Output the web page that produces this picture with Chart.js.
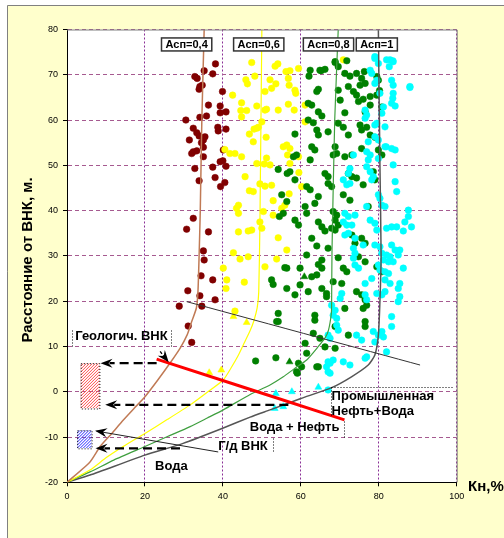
<!DOCTYPE html>
<html>
<head>
<meta charset="utf-8">
<script src="https://cdn.jsdelivr.net/npm/chart.js@4.4.0/dist/chart.umd.min.js"></script>
<style>
  body { margin: 0; background: #fff; overflow: hidden; }
  #box { position: relative; width: 504px; height: 538px; }
</style>
</head>
<body>
<div id="box"><canvas id="myChart"></canvas></div>
<script>
// ---- data: [Кн %, расстояние от ВНК м] ----
const asp04 = [[38.1,72.4],[35.2,70.9],[37.4,70.2],[33.4,69.2],[34.7,67.7],[33.9,66.8],[39.9,66.3],[36.3,63.3],[39.3,63.1],[39.3,61.6],[40.8,61.8],[35.8,60.9],[34.1,60.6],[30.5,60.0],[38.7,58.4],[40.8,58.0],[32.4,58.2],[38.8,57.6],[33.9,56.5],[35.4,56.3],[35.0,55.6],[31.4,55.6],[35.0,54.0],[32.4,53.0],[33.3,53.2],[32.0,52.6],[35.0,51.9],[40.1,53.4],[39.3,50.8],[40.0,51.0],[37.4,49.6],[32.8,49.3],[40.8,49.8],[38.0,47.3],[33.9,46.6],[40.5,46.2],[39.4,45.3],[32.4,38.3],[30.7,35.9],[36.3,35.3],[35.0,31.1],[35.2,29.1],[34.4,25.6],[37.4,24.7],[31.0,22.3],[34.1,21.2],[38.0,20.3],[28.8,18.9],[34.6,18.9],[31.1,14.5],[32.0,10.9],[32.8,69.6],[34.1,67.4],[33.3,57.2],[34.5,55.0]];

const asp06 = [[47.4,72.7],[53.4,71.9],[54.1,72.4],[48.2,69.7],[45.9,68.9],[46.3,68.0],[52.1,68.9],[53.6,68.0],[50.8,66.3],[52.5,67.0],[56.2,70.7],[56.8,69.2],[42.5,65.5],[44.8,63.8],[48.7,63.1],[44.6,62.1],[46.1,62.1],[51.2,62.4],[54.2,62.2],[44.8,60.7],[50.0,59.6],[49.1,58.4],[48.0,58.0],[46.8,56.9],[51.1,56.2],[56.4,54.5],[55.5,54.1],[40.5,53.5],[41.8,52.6],[43.1,52.6],[44.8,51.9],[51.2,51.6],[48.7,50.4],[50.6,50.3],[56.6,52.3],[45.7,47.5],[49.5,45.9],[50.8,45.4],[52.5,45.6],[46.8,44.4],[47.8,44.2],[52.9,42.2],[44.0,41.2],[43.5,40.5],[44.0,39.4],[50.4,39.8],[52.9,39.0],[49.5,37.5],[44.0,35.3],[46.5,35.5],[47.4,35.7],[50.0,36.1],[54.2,34.0],[42.7,30.7],[44.4,29.3],[46.5,29.8],[53.8,29.3],[50.8,27.6],[56.4,31.3],[40.1,27.3],[41.0,24.7],[40.8,22.8],[45.5,24.2],[43.1,17.8],[57.2,70.9],[59.4,71.4],[70.9,73.3],[57.0,67.7],[58.5,66.6],[58.7,65.9],[56.8,63.5],[58.3,62.2],[61.1,63.3],[61.1,59.6],[57.2,53.7],[59.4,51.9],[57.2,50.4],[59.5,48.4],[60.2,45.3],[57.0,43.7],[55.9,41.2],[50.8,62.2],[52.1,50.1],[47.8,55.2],[55.1,40.5],[48.7,58.2]];

const asp08 = [[68.8,72.7],[69.6,71.8],[66.2,71.2],[65.2,70.9],[62.1,69.7],[71.3,70.3],[72.6,69.7],[74.3,70.3],[76.3,70.7],[75.6,69.2],[76.5,68.1],[75.2,67.7],[64.5,66.8],[64.1,66.3],[69.6,66.6],[72.2,67.4],[73.5,66.3],[74.3,65.5],[77.8,65.2],[79.5,65.5],[61.9,63.7],[62.8,63.3],[70.1,64.4],[74.8,64.1],[76.0,64.6],[80.8,62.9],[77.8,63.3],[64.5,61.8],[65.4,60.9],[71.3,61.6],[76.5,61.8],[61.9,60.0],[63.2,59.4],[69.6,59.3],[70.9,58.4],[75.2,58.9],[76.9,58.4],[75.6,57.8],[64.1,57.8],[64.5,56.7],[67.0,57.4],[58.5,56.9],[77.8,56.7],[79.0,56.2],[72.2,56.7],[62.8,54.1],[63.6,53.4],[68.8,54.1],[69.2,52.6],[68.3,52.3],[71.3,51.9],[73.1,52.3],[75.6,53.7],[58.1,51.9],[58.9,52.3],[62.4,51.2],[79.9,53.4],[80.8,52.3],[57.2,48.6],[58.5,46.8],[66.2,48.2],[67.0,47.5],[72.2,48.2],[73.1,47.5],[67.0,46.0],[67.9,45.3],[61.5,45.3],[62.4,44.6],[78.6,48.6],[79.0,46.8],[74.3,47.2],[76.0,45.7],[64.5,43.1],[63.6,41.6],[70.9,43.5],[72.6,42.3],[61.1,40.9],[61.5,39.4],[68.3,39.8],[69.2,39.0],[77.3,40.9],[58.5,37.9],[59.4,36.8],[64.5,37.5],[65.4,36.4],[68.8,37.9],[69.6,36.8],[66.2,35.5],[67.9,36.1],[68.8,35.7],[73.1,34.6],[73.9,32.8],[75.6,33.9],[76.5,32.8],[62.8,33.9],[64.1,32.2],[67.0,31.7],[61.5,30.2],[65.4,29.1],[64.5,28.1],[65.4,27.3],[69.6,29.6],[74.8,29.8],[76.5,28.7],[59.8,27.3],[70.9,27.3],[71.8,26.5],[79.5,27.6],[80.8,26.5],[56.4,27.3],[62.8,25.4],[64.1,25.8],[68.3,24.3],[70.5,23.9],[59.8,23.6],[65.4,22.8],[66.6,21.7],[66.6,21.0],[61.9,22.1],[58.5,21.4],[74.3,22.1],[75.6,21.4],[76.5,20.3],[76.9,19.1],[76.0,18.4],[63.6,16.9],[63.6,15.8],[71.3,18.4],[76.5,15.5],[76.5,14.4],[68.8,14.4],[72.2,12.5],[61.1,10.7],[64.9,11.8],[68.8,9.6],[64.1,5.5],[58.9,4.4],[54.2,49.1],[56.5,48.2],[55.1,43.5],[56.4,42.0],[55.5,39.4],[54.5,38.7],[55.9,27.4],[52.5,24.7],[52.9,23.7],[56.4,22.8],[54.2,17.3],[54.2,15.5],[53.8,15.5],[48.4,6.8],[53.6,7.5],[59.4,6.3],[60.2,5.5],[59.1,4.1],[64.5,5.5],[61.5,8.5],[66.2,9.9],[63.2,12.9],[68.8,72.9],[71.8,73.1],[62.4,71.0],[64.9,71.0],[79.5,69.6],[79.9,68.8],[80.2,66.5]];

const asp1 = [[79.0,74.0],[79.9,72.5],[82.9,73.3],[83.7,72.9],[77.8,71.0],[78.2,70.3],[79.5,68.8],[79.0,68.1],[83.3,68.8],[83.7,67.7],[88.0,67.4],[80.3,65.9],[83.7,65.9],[83.3,63.7],[76.5,60.4],[81.2,62.9],[80.8,61.5],[79.0,58.9],[81.6,58.5],[79.0,56.3],[79.9,55.6],[77.3,55.2],[81.6,54.1],[83.3,53.7],[84.2,53.4],[76.9,53.0],[77.8,52.3],[73.5,52.3],[77.3,51.2],[79.9,51.5],[76.9,49.7],[77.8,48.6],[72.6,49.3],[72.2,48.2],[78.6,47.5],[78.2,46.8],[84.2,46.4],[70.9,46.8],[71.8,45.7],[72.6,46.0],[79.9,43.5],[80.3,42.7],[84.6,44.2],[80.8,41.2],[81.6,40.9],[76.9,40.9],[71.3,39.4],[72.2,38.7],[73.9,39.0],[87.6,40.1],[87.6,38.7],[70.9,37.5],[71.8,36.8],[73.1,36.8],[77.8,37.9],[79.0,37.2],[88.4,36.4],[82.0,36.1],[83.3,36.4],[79.5,35.7],[86.3,35.5],[71.3,34.6],[72.2,35.0],[73.9,33.9],[73.5,31.7],[76.0,32.4],[79.0,32.4],[80.3,32.0],[83.3,32.4],[84.2,31.3],[73.9,30.6],[73.5,29.5],[80.8,30.6],[82.0,30.2],[82.9,29.8],[85.4,31.3],[85.0,30.2],[81.2,29.1],[82.5,28.7],[83.7,28.7],[73.9,28.0],[74.8,27.3],[79.9,28.0],[80.3,26.9],[81.6,26.5],[82.5,26.1],[86.3,27.3],[78.2,25.0],[76.5,23.9],[81.6,24.7],[82.9,23.9],[85.4,23.9],[85.0,22.8],[70.5,21.7],[70.1,20.6],[76.5,21.4],[76.9,20.3],[79.5,21.7],[80.8,21.4],[81.6,22.1],[85.4,21.0],[85.0,19.9],[67.9,19.1],[68.8,18.0],[68.3,16.9],[69.2,16.2],[83.3,16.6],[83.3,14.4],[69.2,14.7],[69.6,13.6],[78.6,13.3],[79.9,12.5],[80.8,13.3],[81.2,12.1],[79.0,11.0],[67.0,12.5],[67.5,11.8],[74.3,12.5],[75.6,11.4],[76.5,7.4],[67.0,6.6],[68.3,7.0],[70.9,6.6],[72.6,5.9],[67.0,4.4],[67.5,4.1],[67.5,6.3],[66.6,5.5],[76.9,7.7],[82.0,8.8],[67.0,0.4],[79.0,73.6],[82.0,73.3],[83.6,73.1],[82.7,71.8],[88.0,67.2],[83.6,64.8],[84.2,63.1],[76.5,62.2],[76.9,61.1],[79.5,59.3],[81.9,54.1],[83.7,50.1],[86.7,37.5],[84.6,36.4]];

// triangles (отдельные замеры)
const tri06 = [[42.7,16.6],[46.1,15.3],[36.5,4.2],[39.6,4.8]];
const tri08 = [[57.1,6.6],[60.9,25.4]];
const tri1 = [[53.6,-0.4],[57.7,0.0],[64.5,1.0],[53.3,-3.7],[55.5,-3.3]];

// trend curves
const curve04 = [[0,-20],[5.9,-15.5],[8.5,-12.1],[11.5,-9.2],[14.4,-6.3],[17.3,-3.6],[20,-1.1],[23.3,2.6],[26.4,6.3],[29,9.6],[30.8,12.5],[32,15.5],[33.2,18.5],[33.6,22],[33.9,30],[34.2,40],[34.6,60],[35.2,80]];
const curve06 = [[0,-20],[5.9,-17.3],[10,-14.6],[14.4,-12.1],[20,-9.2],[25.8,-6.1],[31.6,-2.9],[36,-0.1],[40.1,2.6],[42.2,5.4],[44,8.1],[45.5,10.8],[47,13.5],[48,15.8],[48.8,18.5],[49.2,22],[49.5,37],[50,80]];
const curve08 = [[0,-20],[5.9,-17.7],[12,-15.1],[20,-12.1],[25.8,-9.9],[31.6,-7.7],[36,-5.8],[40.1,-4],[47,-0.6],[52.1,1.5],[55.5,3.3],[58.5,5.2],[61.5,7],[64.5,10],[66.3,12],[67.1,13.6],[67.8,17],[67.9,19],[68,31],[68.7,60],[69.6,80]];
const curve1 = [[0,-20],[5.9,-18.4],[20,-14],[29.8,-11.4],[40.1,-8],[47,-5.6],[52.1,-4],[60,-1.5],[67.9,0.9],[73,3.3],[77.3,5.9],[79,8.1],[79.9,12.5],[80.3,20],[80.6,30],[80.3,50],[79.9,80]];

const vnkLine = [[23,7.2],[71.2,-6.2]];      // red
const contactLine = [[30.7,19.9],[90.6,5.9]]; // thin black

const curveNames = ['Асп=0,4', 'Асп=0,6', 'Асп=0,8', 'Асп=1'];
const curveLabelX = [30.7, 49.2, 67.1, 79.5];

// annotations, axis units
const dashArrows = [[23, 6.3, 8.6, 6.3], [56.8, -2.9, 9.8, -2.9], [29, -12.5, 7.3, -12.5]];
const hatchBoxes = [[3.5, 6.3, 8.3, -3.7, '#ff4a4a'], [2.6, -8.5, 6.3, -12.5, '#2a2aff']];
const notes = [
  ['Геологич. ВНК', 2.1, 12.3, 'left'],
  ['Промышленная', 67.9, -0.95, 'left'],
  ['Нефть+Вода', 67.9, -4.4, 'left'],
  ['Вода + Нефть', 69.9, -7.8, 'right'],
  ['Г/д ВНК', 38.8, -12.0, 'left'],
  ['Вода', 22.6, -16.5, 'left'],
];
const dotLines = [
  [1.4, 13.6, 1.4, 10.2], [26.8, 13.6, 26.8, 10.2],
  [67.7, 1.0, 99.2, 1.0], [67.7, 1.0, 67.7, -5.6],
  [71.2, -6.4, 71.2, -9.9], [52.9, -10.2, 52.9, -13.3],
];

const FONT = "'Liberation Sans', Arial, sans-serif";
const pts = a => a.map(p => ({ x: p[0], y: p[1] }));

function arrowHead(ctx, x1, y1, x2, y2) {
  const ang = Math.atan2(y2 - y1, x2 - x1);
  ctx.save();
  ctx.translate(x2, y2);
  ctx.rotate(ang);
  ctx.beginPath();
  ctx.moveTo(0, 0);
  ctx.lineTo(-12, -4.5);
  ctx.lineTo(-8, 0);
  ctx.lineTo(-12, 4.5);
  ctx.closePath();
  ctx.fillStyle = '#000';
  ctx.fill();
  ctx.restore();
}

const decor = {
  id: 'decor',
  beforeDraw(chart) {
    const { ctx, chartArea: a, width, height } = chart;
    ctx.save();
    ctx.fillStyle = '#fff';
    ctx.fillRect(0, 0, width, height);
    ctx.fillStyle = '#ffffcc';
    ctx.fillRect(7, 5, width - 7, height - 5);
    ctx.strokeStyle = '#808080';
    ctx.beginPath();
    ctx.moveTo(7.5, height);
    ctx.lineTo(7.5, 5.5);
    ctx.lineTo(width, 5.5);
    ctx.stroke();
    ctx.fillStyle = '#fff';
    ctx.fillRect(a.left, a.top, a.right - a.left, a.bottom - a.top);
    ctx.restore();
  },
  afterDatasetsDraw(chart) {
    const { ctx, chartArea: a } = chart;
    const sx = chart.scales.x, sy = chart.scales.y;
    const X = v => sx.getPixelForValue(v), Y = v => sy.getPixelForValue(v);
    ctx.save();

    // plot frame, top and right
    ctx.strokeStyle = '#808080';
    ctx.lineWidth = 1;
    ctx.beginPath();
    ctx.moveTo(a.left, a.top + 0.5);
    ctx.lineTo(a.right + 0.5, a.top + 0.5);
    ctx.lineTo(a.right + 0.5, a.bottom);
    ctx.stroke();

    // hatched boxes
    hatchBoxes.forEach(b => {
      const x0 = X(b[0]), y0 = Y(b[1]), x1 = X(b[2]), y1 = Y(b[3]);
      ctx.save();
      ctx.beginPath();
      ctx.rect(x0, y0, x1 - x0, y1 - y0);
      ctx.clip();
      ctx.strokeStyle = b[4];
      ctx.lineWidth = 1;
      ctx.beginPath();
      const h = y1 - y0;
      for (let k = -h; k < x1 - x0 + h; k += 3) {
        ctx.moveTo(x0 + k, y1);
        ctx.lineTo(x0 + k + h, y0);
      }
      ctx.stroke();
      ctx.restore();
      ctx.save();
      ctx.setLineDash([1, 2]);
      ctx.strokeStyle = '#000';
      ctx.strokeRect(x0 + 0.5, y0 + 0.5, x1 - x0, y1 - y0);
      ctx.restore();
    });

    // dashed arrows
    dashArrows.forEach(d => {
      const x1 = X(d[0]), y1 = Y(d[1]), x2 = X(d[2]), y2 = Y(d[3]);
      ctx.save();
      ctx.strokeStyle = '#000';
      ctx.lineWidth = 2.2;
      ctx.setLineDash([9, 5]);
      ctx.beginPath();
      ctx.moveTo(x1, y1);
      ctx.lineTo(x2 + 9, y2);
      ctx.stroke();
      ctx.restore();
      arrowHead(ctx, x1, y1, x2, y2);
    });

    // thin arrow from Г/д ВНК
    ctx.save();
    ctx.strokeStyle = '#222';
    ctx.lineWidth = 1;
    ctx.beginPath();
    ctx.moveTo(X(38.8), Y(-13.3));
    ctx.lineTo(X(7.6), Y(-8.7));
    ctx.stroke();
    ctx.restore();
    arrowHead(ctx, X(38.8), Y(-13.3), X(7.2), Y(-8.6));

    // small arrow to geological contact
    ctx.save();
    ctx.strokeStyle = '#000';
    ctx.lineWidth = 1.3;
    ctx.setLineDash([3, 2]);
    ctx.beginPath();
    ctx.moveTo(X(23.9), Y(8.9));
    ctx.lineTo(X(25.6), Y(7.0));
    ctx.stroke();
    ctx.restore();
    arrowHead(ctx, X(23.9), Y(8.9), X(26.1), Y(6.5));

    // dotted frames of captions
    ctx.save();
    ctx.strokeStyle = '#000';
    ctx.lineWidth = 1;
    ctx.setLineDash([1, 2]);
    dotLines.forEach(l => {
      ctx.beginPath();
      ctx.moveTo(Math.round(X(l[0])) + 0.5, Math.round(Y(l[1])) + 0.5);
      ctx.lineTo(Math.round(X(l[2])) + 0.5, Math.round(Y(l[3])) + 0.5);
      ctx.stroke();
    });
    ctx.restore();

    // captions
    ctx.fillStyle = '#000';
    ctx.font = 'bold 13px ' + FONT;
    ctx.textBaseline = 'middle';
    notes.forEach(n => {
      ctx.textAlign = n[3];
      ctx.fillText(n[0], X(n[1]), Y(n[2]));
    });

    // curve labels
    ctx.font = 'bold 11px ' + FONT;
    ctx.textAlign = 'center';
    curveNames.forEach((t, i) => {
      const w = ctx.measureText(t).width + 8;
      const cx = X(curveLabelX[i]), cy = Y(76.7);
      ctx.fillStyle = '#fff';
      ctx.fillRect(cx - w / 2, cy - 6.5, w, 13);
      ctx.strokeStyle = '#333';
      ctx.lineWidth = 1.5;
      ctx.strokeRect(cx - w / 2, cy - 6.5, w, 13);
      ctx.fillStyle = '#000';
      ctx.fillText(t, cx, cy + 0.5);
    });

    ctx.restore();
  },
  afterDraw(chart) {
    const { ctx } = chart;
    ctx.save();
    ctx.fillStyle = '#000';
    ctx.font = 'bold 15px ' + FONT;
    ctx.textBaseline = 'middle';
    ctx.textAlign = 'left';
    ctx.fillText('Кн,%', 468, 487);
    ctx.translate(28, 260);
    ctx.rotate(-Math.PI / 2);
    ctx.textAlign = 'center';
    ctx.fillText('Расстояние от ВНК, м.', 0, 0);
    ctx.restore();
  }
};

const dots = (data, color, order) => ({
  data: pts(data), order,
  backgroundColor: color, borderColor: color, borderWidth: 0.5,
  pointRadius: 3.3, pointStyle: 'circle', showLine: false
});
const tris = (data, color, order) => ({
  data: pts(data), order,
  backgroundColor: color, borderColor: color, borderWidth: 0.5,
  pointRadius: 4, pointStyle: 'triangle', showLine: false
});
const line = (data, color, width, order) => ({
  data: pts(data), order,
  borderColor: color, borderWidth: width, showLine: true,
  pointRadius: 0, fill: false, tension: 0.2
});

const ctx = document.getElementById('myChart');
const myChart = new Chart(ctx, {
  type: 'scatter',
  data: {
    datasets: [
      line(vnkLine, '#ff0000', 3, 0),
      line(contactLine, '#333333', 1, 1),
      line(curve04, '#c07a55', 1.5, 2),
      line(curve06, '#ffff00', 1.2, 2),
      line(curve08, '#3f9f3f', 1.2, 2),
      line(curve1, '#555555', 1.5, 2),
      tris(tri06, '#ffff00', 3),
      tris(tri08, '#008000', 3),
      tris(tri1, '#00ffff', 3),
      dots(asp1, '#00ffff', 4),
      dots(asp08, '#008000', 5),
      dots(asp06, '#ffff00', 6),
      dots(asp04, '#800000', 7),
    ]
  },
  options: {
    responsive: true,
    maintainAspectRatio: false,
    animation: false,
    layout: { padding: { top: 29.5, right: 47.3, bottom: 0, left: 0 } },
    plugins: { legend: { display: false }, tooltip: { enabled: false } },
    scales: {
      x: {
        type: 'linear', min: 0, max: 100,
        afterFit: s => { s.height = 55.7; },
        ticks: { stepSize: 20, padding: 5, color: '#000', font: { size: 9, family: FONT } },
        grid: { color: '#8a2f96', lineWidth: 1, tickLength: 4, tickColor: '#000' },
        border: { color: '#000', width: 1, dash: [2, 2] }
      },
      y: {
        type: 'linear', min: -20, max: 80,
        afterFit: s => { s.width = 67; },
        ticks: { stepSize: 10, padding: 5, color: '#000', font: { size: 9, family: FONT } },
        grid: { color: '#a65a90', lineWidth: 1, tickLength: 4, tickColor: '#000' },
        border: { color: '#000', width: 1, dash: [4, 3] }
      }
    }
  },
  plugins: [decor]
});
</script>
</body>
</html>
